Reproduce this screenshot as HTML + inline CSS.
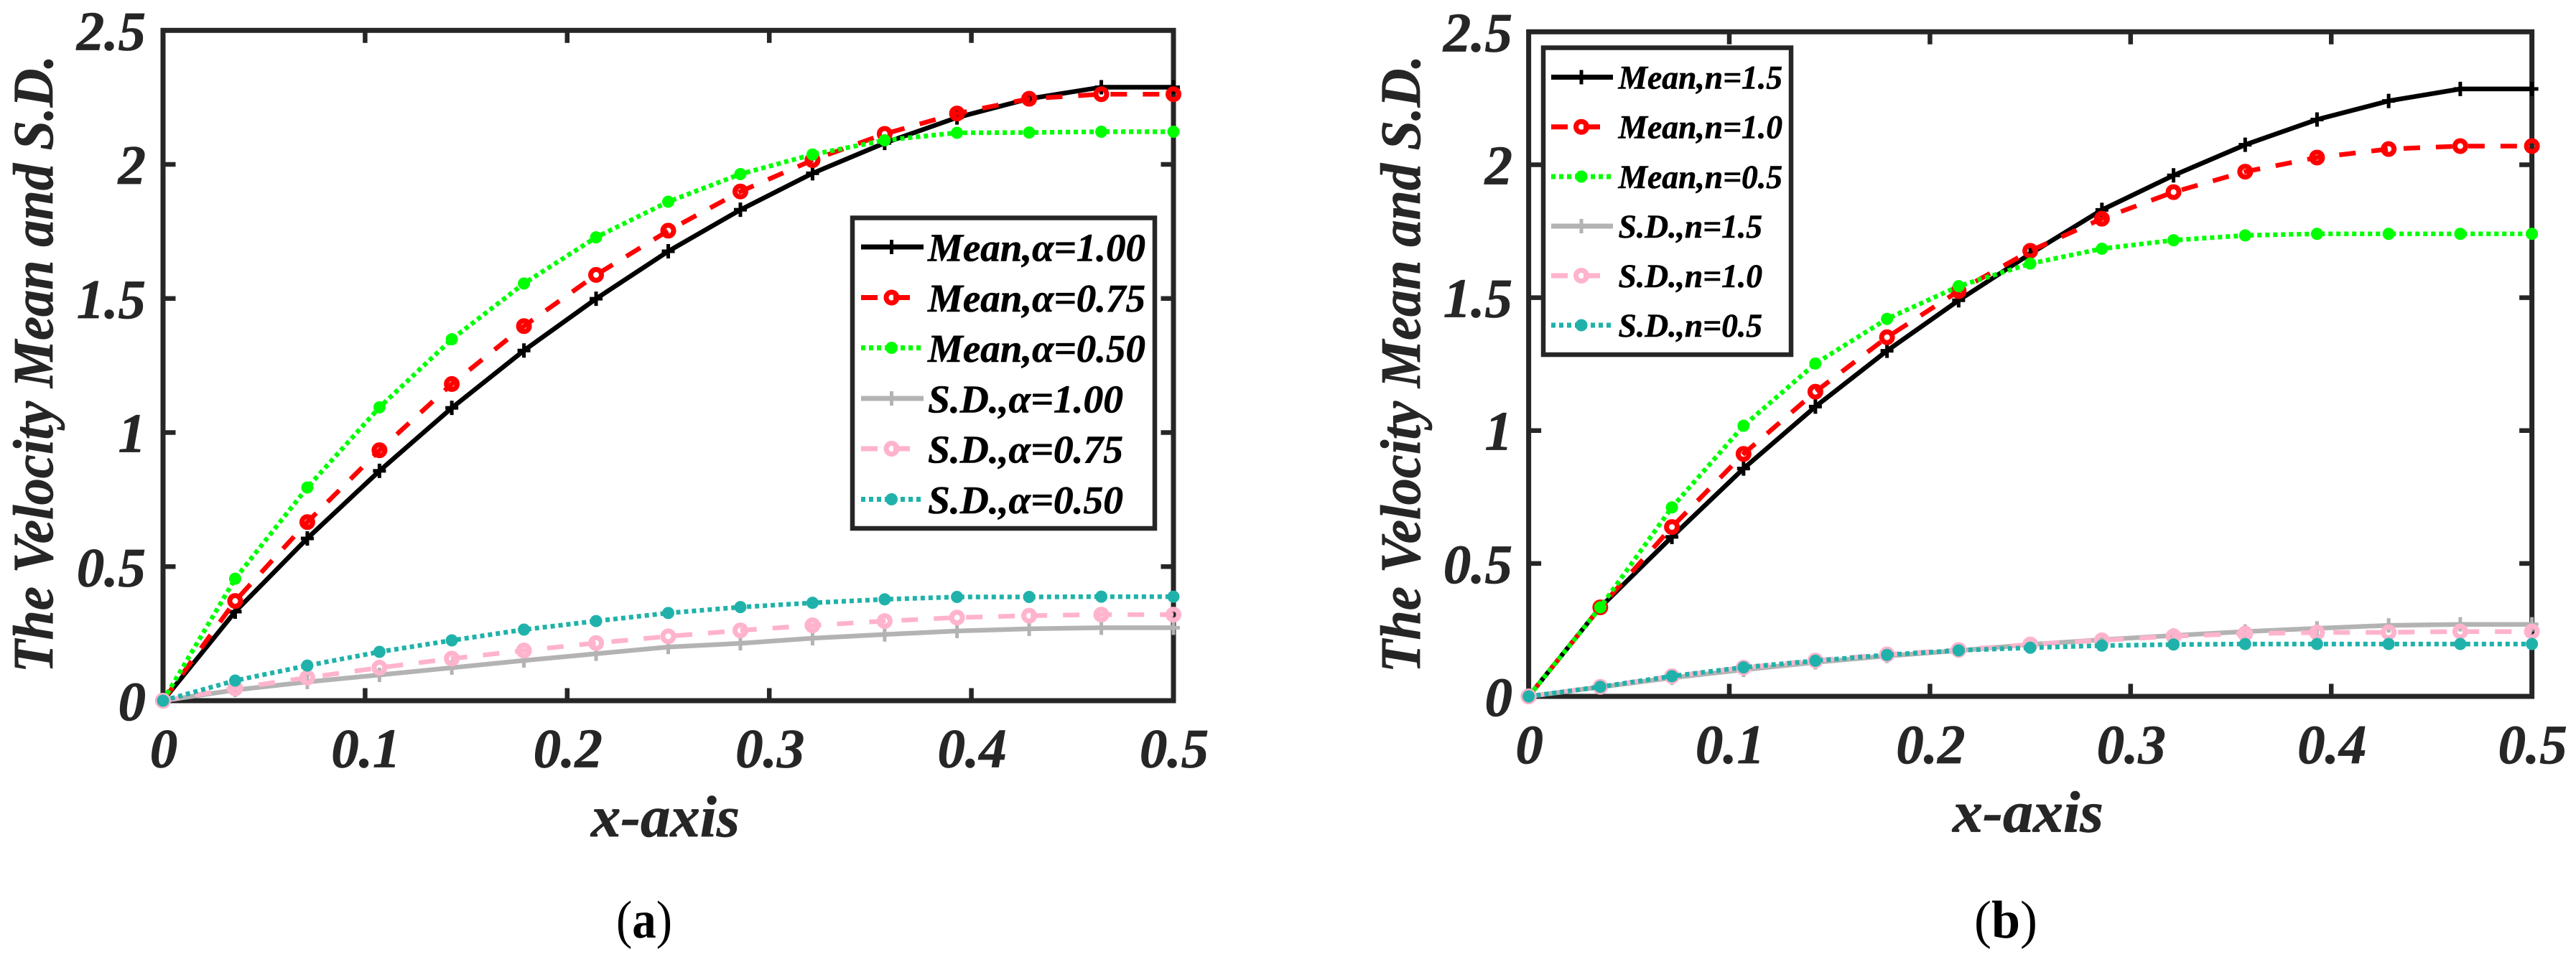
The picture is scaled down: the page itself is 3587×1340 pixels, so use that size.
<!DOCTYPE html>
<html lang="en">
<head>
<meta charset="utf-8">
<title>Velocity Mean and S.D.</title>
<style>
html,body{margin:0;padding:0;background:#fff;width:3587px;height:1340px;overflow:hidden}
svg{display:block;position:absolute;left:0;top:0}
text{font-family:"Liberation Serif","Times New Roman",serif}
.bi{font-weight:bold;font-style:italic;fill:#262626;stroke:#262626;stroke-width:0.7}
.leg{font-weight:bold;font-style:italic;fill:#000;stroke:#000;stroke-width:0.6}
</style>
</head>
<body>
<svg id="figure" xmlns="http://www.w3.org/2000/svg" width="3587" height="1340" viewBox="0 0 3587 1340">
  <rect width="3587" height="1340" fill="#fff"/>

  <g id="panel-a">
    <g id="a-frame"></g>
    <g id="a-series"></g>
    <text class="bi" font-size="79" transform="translate(73,937) rotate(-90)" textLength="860" lengthAdjust="spacingAndGlyphs">The Velocity Mean and S.D.</text>
    <text class="bi" font-size="82" x="823" y="1165" textLength="207" lengthAdjust="spacingAndGlyphs">x-axis</text>
    <text font-size="74" x="858" y="1306" fill="#000" textLength="78" lengthAdjust="spacingAndGlyphs">(<tspan font-weight="bold">a</tspan>)</text>
    <g id="a-legend">
      <rect x="1187" y="303.5" width="421" height="432.5" fill="#fff" stroke="#262626" stroke-width="6.5"/>
      <g id="a-legend-samples"></g>
      <text class="leg" font-size="55" x="1292" y="363.5" textLength="303" lengthAdjust="spacingAndGlyphs">Mean,α=1.00</text>
      <text class="leg" font-size="55" x="1292" y="434" textLength="303" lengthAdjust="spacingAndGlyphs">Mean,α=0.75</text>
      <text class="leg" font-size="55" x="1292" y="504" textLength="303" lengthAdjust="spacingAndGlyphs">Mean,α=0.50</text>
      <text class="leg" font-size="55" x="1292" y="574.5" textLength="272" lengthAdjust="spacingAndGlyphs">S.D.,α=1.00</text>
      <text class="leg" font-size="55" x="1292" y="644.5" textLength="272" lengthAdjust="spacingAndGlyphs">S.D.,α=0.75</text>
      <text class="leg" font-size="55" x="1292" y="715" textLength="272" lengthAdjust="spacingAndGlyphs">S.D.,α=0.50</text>
    </g>
  </g>

  <g id="panel-b">
    <g id="b-frame"></g>
    <g id="b-series"></g>
    <text class="bi" font-size="79" transform="translate(1977,937) rotate(-90)" textLength="860" lengthAdjust="spacingAndGlyphs">The Velocity Mean and S.D.</text>
    <text class="bi" font-size="82" x="2719" y="1158.5" textLength="210" lengthAdjust="spacingAndGlyphs">x-axis</text>
    <text font-size="74" x="2749" y="1306" fill="#000" textLength="88" lengthAdjust="spacingAndGlyphs">(<tspan font-weight="bold">b</tspan>)</text>
    <g id="b-legend">
      <rect x="2149" y="66.5" width="345" height="427.5" fill="#fff" stroke="#262626" stroke-width="6.5"/>
      <g id="b-legend-samples"></g>
      <text class="leg" font-size="47" x="2253.5" y="123.5" textLength="228.5" lengthAdjust="spacingAndGlyphs">Mean,n=1.5</text>
      <text class="leg" font-size="47" x="2253.5" y="192.5" textLength="228.5" lengthAdjust="spacingAndGlyphs">Mean,n=1.0</text>
      <text class="leg" font-size="47" x="2253.5" y="262" textLength="228.5" lengthAdjust="spacingAndGlyphs">Mean,n=0.5</text>
      <text class="leg" font-size="47" x="2253.5" y="331" textLength="200.5" lengthAdjust="spacingAndGlyphs">S.D.,n=1.5</text>
      <text class="leg" font-size="47" x="2253.5" y="400" textLength="200.5" lengthAdjust="spacingAndGlyphs">S.D.,n=1.0</text>
      <text class="leg" font-size="47" x="2253.5" y="469" textLength="200.5" lengthAdjust="spacingAndGlyphs">S.D.,n=0.5</text>
    </g>
  </g>
</svg>

<script>
// ---- chart data ----
var xSamples = [0,0.0357,0.0714,0.1071,0.1429,0.1786,0.2143,0.25,0.2857,0.3214,0.3571,0.3929,0.4286,0.4643,0.5];
var xTickValues = [0,0.1,0.2,0.3,0.4,0.5];
var xTickLabels = ['0','0.1','0.2','0.3','0.4','0.5'];
var yTickValues = [0,0.5,1,1.5,2,2.5];
var yTickLabels = ['0','0.5','1','1.5','2','2.5'];

// Panel (a): varying alpha
var meanAlpha100 = [0,0.332,0.605,0.857,1.092,1.306,1.499,1.676,1.831,1.967,2.08,2.175,2.245,2.288,2.288];
var meanAlpha075 = [0,0.372,0.666,0.934,1.181,1.397,1.588,1.753,1.899,2.016,2.114,2.19,2.245,2.262,2.262];
var meanAlpha050 = [0,0.455,0.795,1.094,1.348,1.556,1.728,1.861,1.964,2.037,2.09,2.118,2.119,2.122,2.122];
var sdAlpha100 = [0,0.04,0.07,0.096,0.123,0.15,0.175,0.2,0.214,0.233,0.247,0.26,0.268,0.272,0.272];
var sdAlpha075 = [0,0.046,0.086,0.123,0.157,0.187,0.215,0.24,0.262,0.281,0.297,0.31,0.317,0.321,0.321];
var sdAlpha050 = [0,0.075,0.131,0.182,0.225,0.265,0.297,0.327,0.349,0.365,0.378,0.387,0.387,0.388,0.388];

// Panel (b): varying n
var meanN15 = [0,0.335,0.6,0.857,1.09,1.3,1.49,1.665,1.83,1.96,2.075,2.17,2.24,2.285,2.285];
var meanN10 = [0,0.335,0.637,0.912,1.146,1.351,1.525,1.676,1.797,1.897,1.974,2.027,2.059,2.07,2.07];
var meanN05 = [0,0.335,0.711,1.018,1.252,1.42,1.543,1.628,1.684,1.716,1.734,1.74,1.74,1.74,1.74];
var sdN15 = [0,0.035,0.07,0.1,0.128,0.152,0.172,0.195,0.213,0.229,0.244,0.256,0.267,0.271,0.271];
var sdN10 = [0,0.036,0.076,0.108,0.135,0.158,0.175,0.195,0.211,0.226,0.236,0.24,0.241,0.244,0.244];
var sdN05 = [0,0.036,0.076,0.109,0.134,0.156,0.173,0.183,0.191,0.195,0.197,0.197,0.197,0.197,0.197];

// ---- drawing ----
var SVGNS = 'http://www.w3.org/2000/svg';
var INK = '#262626';

function lineStyle(kind) {
  if (kind === 'black') return {color:'#000000', dash:null, marker:'plus'};
  if (kind === 'red') return {color:'#ff0000', dash:'23 22', marker:'ring'};
  if (kind === 'green') return {color:'#00ff00', dash:'6 5', marker:'dot'};
  if (kind === 'gray') return {color:'#b3b3b3', dash:null, marker:'plus'};
  if (kind === 'pink') return {color:'#ffb3cc', dash:'23 22', marker:'ring'};
  return {color:'#20b2aa', dash:'6 5', marker:'dot'};
}

function makeMarker(parent, type, cx, cy, color, name) {
  var m;
  if (type === 'plus') {
    m = document.createElementNS(SVGNS, 'path');
    m.setAttribute('d', 'M' + (cx - 9) + ' ' + cy + 'H' + (cx + 9) + 'M' + cx + ' ' + (cy - 10) + 'V' + (cy + 10));
    m.setAttribute('stroke', color);
    m.setAttribute('stroke-width', '5');
    m.setAttribute('fill', 'none');
  } else if (type === 'ring') {
    m = document.createElementNS(SVGNS, 'circle');
    m.setAttribute('cx', cx);
    m.setAttribute('cy', cy);
    m.setAttribute('r', '7.5');
    m.setAttribute('stroke', color);
    m.setAttribute('stroke-width', '7');
    m.setAttribute('fill', 'none');
  } else {
    m = document.createElementNS(SVGNS, 'circle');
    m.setAttribute('cx', cx);
    m.setAttribute('cy', cy);
    m.setAttribute('r', '8.5');
    m.setAttribute('fill', color);
  }
  
  
  parent.appendChild(m);
}

function drawFrame(parent, box, xScale, yScale, fontSize, xBase, yRight, prefix) {
  var rect = document.createElementNS(SVGNS, 'rect');
  rect.setAttribute('x', box.left);
  rect.setAttribute('y', box.top);
  rect.setAttribute('width', box.right - box.left);
  rect.setAttribute('height', box.bottom - box.top);
  rect.setAttribute('fill', 'none');
  rect.setAttribute('stroke', INK);
  rect.setAttribute('stroke-width', '7');
  
  
  parent.appendChild(rect);

  var tickLen = 17.5;
  xTickValues.forEach(function (v, i) {
    var x = xScale(v);
    if (i > 0 && i < xTickValues.length - 1) {
      var t = document.createElementNS(SVGNS, 'path');
      t.setAttribute('d', 'M' + x + ' ' + box.bottom + 'V' + (box.bottom - tickLen) + 'M' + x + ' ' + box.top + 'V' + (box.top + tickLen));
      t.setAttribute('stroke', INK);
      t.setAttribute('stroke-width', '6.5');
      
      
      parent.appendChild(t);
    }
    var lab = document.createElementNS(SVGNS, 'text');
    lab.setAttribute('x', x + 1);
    lab.setAttribute('y', xBase);
    lab.setAttribute('text-anchor', 'middle');
    lab.setAttribute('font-size', fontSize);
    lab.setAttribute('class', 'bi');
    
    
    lab.textContent = xTickLabels[i];
    parent.appendChild(lab);
  });
  yTickValues.forEach(function (v, i) {
    var y = yScale(v);
    if (i > 0 && i < yTickValues.length - 1) {
      var t = document.createElementNS(SVGNS, 'path');
      t.setAttribute('d', 'M' + box.left + ' ' + y + 'H' + (box.left + tickLen) + 'M' + box.right + ' ' + y + 'H' + (box.right - tickLen));
      t.setAttribute('stroke', INK);
      t.setAttribute('stroke-width', '6.5');
      
      
      parent.appendChild(t);
    }
    var lab = document.createElementNS(SVGNS, 'text');
    lab.setAttribute('x', yRight);
    lab.setAttribute('y', y + 27);
    lab.setAttribute('text-anchor', 'end');
    lab.setAttribute('font-size', fontSize);
    lab.setAttribute('class', 'bi');
    
    
    lab.textContent = yTickLabels[i];
    parent.appendChild(lab);
  });
}

function drawSeries(parent, values, kind, xScale, yScale, name) {
  var st = lineStyle(kind);
  var g = document.createElementNS(SVGNS, 'g');
  
  
  var d = values.map(function (v, i) {
    return (i ? 'L' : 'M') + xScale(xSamples[i]).toFixed(1) + ' ' + yScale(v).toFixed(1);
  }).join(' ');
  var line = document.createElementNS(SVGNS, 'path');
  line.setAttribute('d', d);
  line.setAttribute('fill', 'none');
  line.setAttribute('stroke', st.color);
  line.setAttribute('stroke-width', '6.5');
  if (st.dash) line.setAttribute('stroke-dasharray', st.dash);
  
  
  g.appendChild(line);
  values.forEach(function (v, i) {
    makeMarker(g, st.marker, xScale(xSamples[i]), yScale(v), st.color, name + '-point');
  });
  parent.appendChild(g);
}

function drawLegendSample(parent, kind, x1, x2, y, name) {
  var st = lineStyle(kind);
  var line = document.createElementNS(SVGNS, 'line');
  line.setAttribute('x1', x1);
  line.setAttribute('x2', x2);
  line.setAttribute('y1', y);
  line.setAttribute('y2', y);
  line.setAttribute('stroke', st.color);
  line.setAttribute('stroke-width', '7');
  if (st.dash) line.setAttribute('stroke-dasharray', st.dash);
  
  
  parent.appendChild(line);
  makeMarker(parent, st.marker, (x1 + x2) / 2 - 1, y, st.color, name + '-marker');
}

// Panel (a) axis functions
var boxA = {left:227, right:1634, top:42.3, bottom:976};
function xA(v) { return boxA.left + v / 0.5 * (boxA.right - boxA.left); }
function yA(v) { return boxA.bottom - v / 2.5 * (boxA.bottom - boxA.top); }

// Panel (b) axis functions
var boxB = {left:2128.6, right:3525.6, top:44.3, bottom:970};
function xB(v) { return boxB.left + v / 0.5 * (boxB.right - boxB.left); }
function yB(v) { return boxB.bottom - v / 2.5 * (boxB.bottom - boxB.top); }

drawFrame(document.getElementById('a-frame'), boxA, xA, yA, 77, 1068.5, 203, 'panel-a');
drawFrame(document.getElementById('b-frame'), boxB, xB, yB, 77, 1063, 2106, 'panel-b');

var sa = document.getElementById('a-series');
drawSeries(sa, meanAlpha100, 'black', xA, yA, 'series-mean-alpha-100');
drawSeries(sa, meanAlpha075, 'red', xA, yA, 'series-mean-alpha-075');
drawSeries(sa, meanAlpha050, 'green', xA, yA, 'series-mean-alpha-050');
drawSeries(sa, sdAlpha100, 'gray', xA, yA, 'series-sd-alpha-100');
drawSeries(sa, sdAlpha075, 'pink', xA, yA, 'series-sd-alpha-075');
drawSeries(sa, sdAlpha050, 'teal', xA, yA, 'series-sd-alpha-050');

var sb = document.getElementById('b-series');
drawSeries(sb, meanN15, 'black', xB, yB, 'series-mean-n-15');
drawSeries(sb, meanN10, 'red', xB, yB, 'series-mean-n-10');
drawSeries(sb, meanN05, 'green', xB, yB, 'series-mean-n-05');
drawSeries(sb, sdN15, 'gray', xB, yB, 'series-sd-n-15');
drawSeries(sb, sdN10, 'pink', xB, yB, 'series-sd-n-10');
drawSeries(sb, sdN05, 'teal', xB, yB, 'series-sd-n-05');

var la = document.getElementById('a-legend-samples');
drawLegendSample(la, 'black', 1199, 1286, 344, 'legend-sample-mean-alpha-100');
drawLegendSample(la, 'red', 1199, 1286, 414.5, 'legend-sample-mean-alpha-075');
drawLegendSample(la, 'green', 1199, 1286, 484.5, 'legend-sample-mean-alpha-050');
drawLegendSample(la, 'gray', 1199, 1286, 555, 'legend-sample-sd-alpha-100');
drawLegendSample(la, 'pink', 1199, 1286, 625, 'legend-sample-sd-alpha-075');
drawLegendSample(la, 'teal', 1199, 1286, 695.5, 'legend-sample-sd-alpha-050');

var lb = document.getElementById('b-legend-samples');
drawLegendSample(lb, 'black', 2160, 2246, 107.5, 'legend-sample-mean-n-15');
drawLegendSample(lb, 'red', 2160, 2246, 176.7, 'legend-sample-mean-n-10');
drawLegendSample(lb, 'green', 2160, 2246, 246, 'legend-sample-mean-n-05');
drawLegendSample(lb, 'gray', 2160, 2246, 315, 'legend-sample-sd-n-15');
drawLegendSample(lb, 'pink', 2160, 2246, 384, 'legend-sample-sd-n-10');
drawLegendSample(lb, 'teal', 2160, 2246, 453, 'legend-sample-sd-n-05');
</script>
</body>
</html>
